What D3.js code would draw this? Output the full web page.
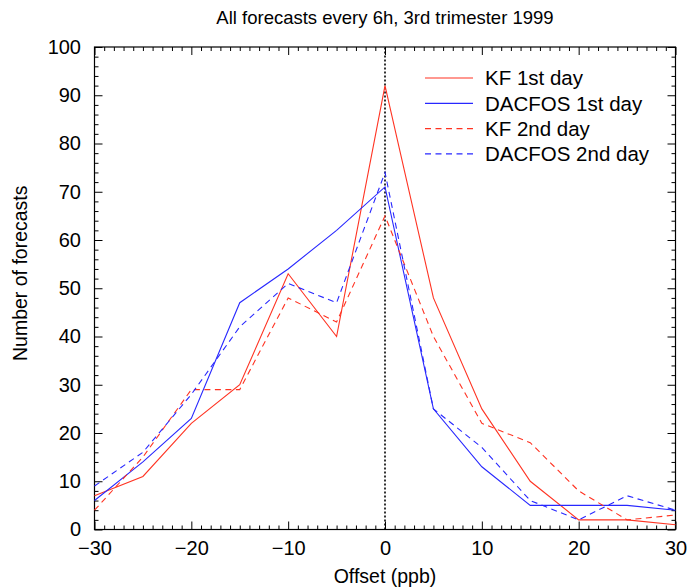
<!DOCTYPE html>
<html>
<head>
<meta charset="utf-8">
<script src="https://cdn.jsdelivr.net/npm/d3@7"></script>
<style>
  html, body { margin: 0; padding: 0; background: #fff; }
  svg text { font-family: "Liberation Sans", Arial, Helvetica, sans-serif; fill: #000; }
</style>
</head>
<body>
<svg id="chart" width="687" height="588"></svg>
<script>
// Offset classes (ppb)
const offsets = [-30, -25, -20, -15, -10, -5, 0, 5, 10, 15, 20, 25, 30];

// Number of forecasts in each offset class
const kfDay1     = [7, 11, 22, 30, 53, 40, 92, 48, 25, 10, 2, 2, 1];
const dacfosDay1 = [6, 14, 23, 47, 54, 62, 71, 25, 13, 5, 5, 5, 4];
const kfDay2     = [4, 15, 29, 29, 48, 43, 65, 40, 22, 18, 8, 2, 3];
const dacfosDay2 = [9, 16, 28, 42, 51, 47, 74, 25, 17, 6, 2, 7, 4];

const seriesNames = ["KF 1st day", "DACFOS 1st day", "KF 2nd day", "DACFOS 2nd day"];
const xTickValues = [-30, -20, -10, 0, 10, 20, 30];
const xTickLabels = ["\u221230", "\u221220", "\u221210", "0", "10", "20", "30"];
const yTickValues = [0, 10, 20, 30, 40, 50, 60, 70, 80, 90, 100];

const RED = "#ff3322";
const BLUE = "#2828ff";

const series = [
  { name: seriesNames[0], values: kfDay1,     color: RED,  dash: null },
  { name: seriesNames[1], values: dacfosDay1, color: BLUE, dash: null },
  { name: seriesNames[2], values: kfDay2,     color: RED,  dash: "6,4.5" },
  { name: seriesNames[3], values: dacfosDay2, color: BLUE, dash: "6,4.5" }
];

const svg = d3.select("#chart");
const plot = { left: 94.5, right: 675.5, top: 47, bottom: 529.5 };

const x = d3.scaleLinear().domain([-30, 30]).range([plot.left, plot.right]);
const y = d3.scaleLinear().domain([0, 100]).range([plot.bottom, plot.top]);

// Inward ticks on all four sides: majors every 10, minors every 1 (x) / 2 (y)
const majorLen = 8, minorLen = 4;
const xMinor = d3.range(-30, 31, 1).filter(v => v % 10 !== 0);
const yMinor = d3.range(0, 101, 2).filter(v => v % 10 !== 0);

function addAxis(axis, translate, cls) {
  const g = svg.append("g").attr("class", cls).attr("transform", translate).call(axis);
  g.select(".domain").remove();
  g.selectAll("line").attr("stroke", "#000").attr("stroke-width", 1);
  return g;
}

// bottom
const xb = addAxis(d3.axisBottom(x).tickValues(xTickValues).tickSizeInner(-majorLen).tickSizeOuter(0)
  .tickPadding(11).tickFormat((d, i) => xTickLabels[i]), `translate(0,${plot.bottom})`, "x-axis");
xb.selectAll("text").attr("font-size", 20);
addAxis(d3.axisBottom(x).tickValues(xMinor).tickSizeInner(-minorLen).tickSizeOuter(0).tickFormat(""),
  `translate(0,${plot.bottom})`, "x-minor");
// top
addAxis(d3.axisTop(x).tickValues(xTickValues).tickSizeInner(-majorLen).tickSizeOuter(0).tickFormat(""),
  `translate(0,${plot.top})`, "x-top");
addAxis(d3.axisTop(x).tickValues(xMinor).tickSizeInner(-minorLen).tickSizeOuter(0).tickFormat(""),
  `translate(0,${plot.top})`, "x-top-minor");
// left
const yl = addAxis(d3.axisLeft(y).tickValues(yTickValues).tickSizeInner(-majorLen).tickSizeOuter(0)
  .tickPadding(13.5).tickFormat(d3.format("d")), `translate(${plot.left},0)`, "y-axis");
yl.selectAll("text").attr("font-size", 20);
addAxis(d3.axisLeft(y).tickValues(yMinor).tickSizeInner(-minorLen).tickSizeOuter(0).tickFormat(""),
  `translate(${plot.left},0)`, "y-minor");
// right
addAxis(d3.axisRight(y).tickValues(yTickValues).tickSizeInner(-majorLen).tickSizeOuter(0).tickFormat(""),
  `translate(${plot.right},0)`, "y-right");
addAxis(d3.axisRight(y).tickValues(yMinor).tickSizeInner(-minorLen).tickSizeOuter(0).tickFormat(""),
  `translate(${plot.right},0)`, "y-right-minor");

// frame
svg.append("rect")
  .attr("x", plot.left).attr("y", plot.top)
  .attr("width", plot.right - plot.left).attr("height", plot.bottom - plot.top)
  .attr("fill", "none").attr("stroke", "#000").attr("stroke-width", 1.2);

// zero-offset reference line
svg.append("line")
  .attr("x1", x(0)).attr("x2", x(0)).attr("y1", y(0)).attr("y2", y(100))
  .attr("stroke", "#000").attr("stroke-width", 1.6).attr("stroke-dasharray", "2,2");

// series lines
const line = d3.line().x((d, i) => x(offsets[i])).y(d => y(d));
svg.append("g").attr("class", "series")
  .selectAll("path").data(series).join("path")
  .attr("d", s => line(s.values))
  .attr("fill", "none")
  .attr("stroke", s => s.color)
  .attr("stroke-width", 1.1)
  .attr("stroke-dasharray", s => s.dash);

// legend
const legend = svg.append("g").attr("class", "legend").attr("transform", "translate(425,78)");
const rowH = 25.3;
const items = legend.selectAll("g").data(series).join("g")
  .attr("transform", (d, i) => `translate(0,${i * rowH})`);
items.append("line")
  .attr("x1", 0).attr("x2", 48).attr("y1", 0).attr("y2", 0)
  .attr("stroke", s => s.color).attr("stroke-width", 1.2)
  .attr("stroke-dasharray", s => s.dash);
items.append("text")
  .attr("x", 60).attr("y", 0).attr("dy", "0.36em")
  .attr("font-size", 20.5)
  .text(s => s.name);

// title and axis titles
svg.append("text")
  .attr("x", (plot.left + plot.right) / 2).attr("y", 24)
  .attr("text-anchor", "middle").attr("font-size", 18.5)
  .text("All forecasts every 6h, 3rd trimester 1999");

svg.append("text")
  .attr("x", (plot.left + plot.right) / 2).attr("y", 583)
  .attr("text-anchor", "middle").attr("font-size", 19.5)
  .text("Offset (ppb)");

svg.append("text")
  .attr("transform", `translate(27,${(plot.top + plot.bottom) / 2 - 15}) rotate(-90)`)
  .attr("text-anchor", "middle").attr("font-size", 19.5)
  .text("Number of forecasts");
</script>
</body>
</html>
